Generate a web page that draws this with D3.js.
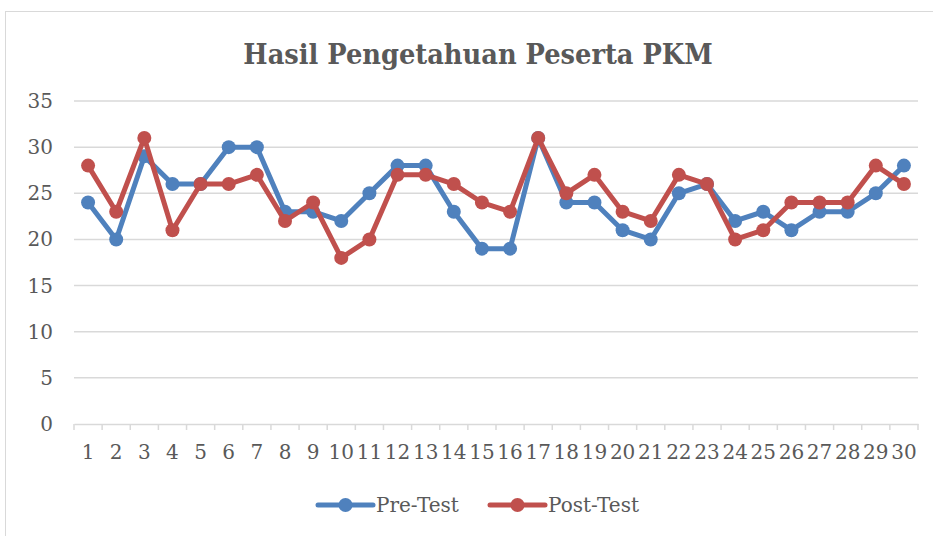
<!DOCTYPE html>
<html>
<head>
<meta charset="utf-8">
<script src="https://cdn.jsdelivr.net/npm/d3@7"></script>
<style>
  body { margin: 0; background: #fff; }
  text { font-family: "DejaVu Serif", "Liberation Serif", serif; fill: #595959; }
</style>
</head>
<body>
<svg id="chart" width="933" height="536"></svg>
<script>
// data
const categories = d3.range(1, 31).map(String);
const preTest = [24, 20, 29, 26, 26, 30, 30, 23, 23, 22, 25, 28, 28, 23, 19, 19, 31, 24, 24, 21, 20, 25, 26, 22, 23, 21, 23, 23, 25, 28];
const postTest = [28, 23, 31, 21, 26, 26, 27, 22, 24, 18, 20, 27, 27, 26, 24, 23, 31, 25, 27, 23, 22, 27, 26, 20, 21, 24, 24, 24, 28, 26];
const yTicks = [0, 5, 10, 15, 20, 25, 30, 35];

const series = [
  { name: "Pre-Test", values: preTest, color: "#4f81bd" },
  { name: "Post-Test", values: postTest, color: "#c0504d" },
];

const svg = d3.select("#chart");

// chart area frame
svg.append("rect")
  .attr("x", 5.5).attr("y", 11.5)
  .attr("width", 940).attr("height", 540)
  .attr("fill", "#fff")
  .attr("stroke", "#d9d9d9");

svg.append("text")
  .attr("x", 478).attr("y", 64)
  .attr("text-anchor", "middle")
  .style("font-family", "'DejaVu Serif Condensed', 'DejaVu Serif', serif")
  .style("font-weight", "bold")
  .style("font-size", "28.6px")
  .text("Hasil Pengetahuan Peserta PKM");

const x = d3.scaleBand().domain(categories).range([74, 918]);
const y = d3.scaleLinear().domain([0, 35]).range([424, 101]);

// gridlines
svg.append("g")
  .selectAll("line")
  .data(yTicks.filter(d => d > 0))
  .join("line")
  .attr("x1", 74).attr("x2", 918)
  .attr("y1", d => y(d)).attr("y2", d => y(d))
  .attr("stroke", "#d9d9d9")
  .attr("stroke-width", 1.5);

// y axis labels
svg.append("g")
  .selectAll("text")
  .data(yTicks)
  .join("text")
  .attr("x", 53).attr("y", d => y(d))
  .attr("dy", "0.35em")
  .attr("text-anchor", "end")
  .style("font-size", "20px")
  .text(d => d);

// x axis
const xAxis = svg.append("g")
  .attr("transform", "translate(0,424)")
  .call(d3.axisBottom(x).tickSize(0).tickPadding(21));
xAxis.select(".domain").attr("stroke", "#d9d9d9").attr("stroke-width", 1.5);
xAxis.selectAll("text")
  .style("font-family", "'DejaVu Serif', serif")
  .style("font-size", "20px")
  .attr("fill", "#595959");
xAxis.selectAll(".sep")
  .data(d3.range(31))
  .join("line")
  .attr("class", "sep")
  .attr("x1", i => 74 + i * x.step()).attr("x2", i => 74 + i * x.step())
  .attr("y1", 0).attr("y2", 6)
  .attr("stroke", "#d9d9d9")
  .attr("stroke-width", 1.5);

const line = d3.line()
  .x((d, i) => x(categories[i]) + x.bandwidth() / 2)
  .y(d => y(d));

series.forEach(s => {
  const g = svg.append("g");
  g.append("path")
    .datum(s.values)
    .attr("d", line)
    .attr("fill", "none")
    .attr("stroke", s.color)
    .attr("stroke-width", 5)
    .attr("stroke-linejoin", "round");
  g.selectAll("circle")
    .data(s.values)
    .join("circle")
    .attr("cx", (d, i) => x(categories[i]) + x.bandwidth() / 2)
    .attr("cy", d => y(d))
    .attr("r", 7)
    .attr("fill", s.color);
});

// legend
const legendX = [318, 490];
const legend = svg.append("g")
  .selectAll("g")
  .data(series)
  .join("g")
  .attr("transform", (d, i) => `translate(${legendX[i]},505)`);
legend.append("line")
  .attr("x1", 0).attr("x2", 55)
  .attr("stroke", d => d.color)
  .attr("stroke-width", 5)
  .attr("stroke-linecap", "round");
legend.append("circle")
  .attr("cx", 27.5).attr("r", 7)
  .attr("fill", d => d.color);
legend.append("text")
  .attr("x", 58).attr("dy", "0.35em")
  .style("font-size", "20px")
  .text(d => d.name);
</script>
</body>
</html>
